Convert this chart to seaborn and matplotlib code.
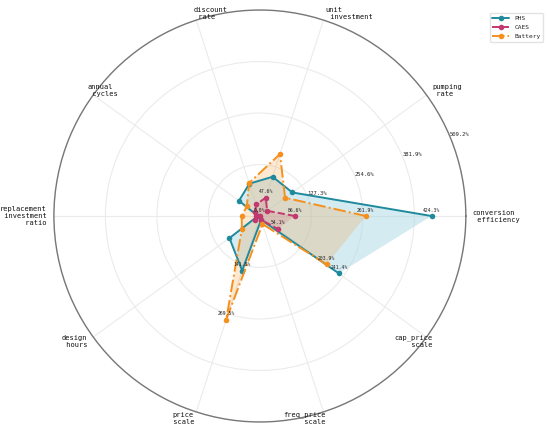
import numpy as np
import matplotlib
matplotlib.use("Agg")
import matplotlib.pyplot as plt
import seaborn as sns

# axes of the radar, counter-clockwise from the right
categories = ["conversion efficiency", "pumping rate", "unit investment", "discount rate",
              "annual cycles", "replacement investment ratio", "design hours",
              "price scale", "freq_price scale", "cap_price scale"]

# values in % (relative sensitivity)
phs = [424.3, 99.0, 102.0, 84.0, 64.0, 5.0, 93.0, 141.8, 10.0, 241.4]
caes = [86.6, 22.0, 47.6, 30.0, 15.0, 10.0, 15.0, 0.0, 10.0, 54.1]
battery = [261.9, 77.0, 161.0, 86.0, 40.0, 45.0, 55.0, 269.5, 21.0, 203.9]

r_ticks = [127.3, 254.6, 381.9, 509.2]

# which points get a value label
labelled = {
    "PHS": [0, 9, 7],
    "CAES": [0, 9, 2, 7],
    "Battery": [7, 0, 9],
}

sns.set_theme(style="white")
plt.rcParams["font.family"] = ["DejaVu Sans Mono"]

series = [
    ("PHS", phs, "#1f8a9c", "-", "#add8e6", 0.5),
    ("CAES", caes, "#c2386f", "--", "#c2386f", 0.18),
    ("Battery", battery, "#f5901e", "-.", "#f5901e", 0.2),
]

n = len(categories)
angles = np.linspace(0, 2 * np.pi, n, endpoint=False)
closed = np.concatenate([angles, angles[:1]])


def straight_polygon(theta, r, steps=40):
    # polar fill with straight edges: walk each edge in x/y and convert back
    x = r * np.cos(theta)
    y = r * np.sin(theta)
    xs, ys = [], []
    for k in range(len(theta)):
        j = (k + 1) % len(theta)
        t = np.linspace(0, 1, steps, endpoint=False)
        xs.append(x[k] + (x[j] - x[k]) * t)
        ys.append(y[k] + (y[j] - y[k]) * t)
    xs = np.concatenate(xs)
    ys = np.concatenate(ys)
    return np.unwrap(np.arctan2(ys, xs)), np.hypot(xs, ys)


fig = plt.figure(figsize=(5.5, 4.29), dpi=100)
ax = fig.add_axes([0.098, 0.016, 0.749, 0.961], projection="polar")

for name, vals, col, ls, fill, alpha in series:
    v = np.concatenate([vals, vals[:1]])
    th_f, r_f = straight_polygon(angles, np.array(vals))
    ax.fill(th_f, r_f, facecolor=fill, edgecolor="none", alpha=alpha, zorder=2)
    sns.lineplot(x=closed, y=v, ax=ax, sort=False, errorbar=None, color=col,
                 linestyle=ls, linewidth=1.4, marker="o", markersize=4,
                 markeredgewidth=0, label=name, zorder=3)
    for i in labelled[name]:
        ax.annotate(f"{vals[i]:.1f}%", (angles[i], vals[i]), textcoords="offset points",
                    xytext=(0, 2.5), ha="center", va="bottom", fontsize=3.4,
                    color="#222222", zorder=5)

ax.set_ylim(0, r_ticks[-1])
ax.set_yticks(r_ticks)
ax.set_yticklabels([f"{t:.1f}%" for t in r_ticks], fontsize=4, color="#222222")
ax.set_rlabel_position(22.5)
ax.set_xticks(angles)
ax.set_xticklabels([])
ax.set_xlabel("")
ax.set_ylabel("")
ax.grid(True, color="#ebebeb", linewidth=0.8)
ax.spines["polar"].set_color("#777777")
ax.spines["polar"].set_linewidth(1.0)

# category names just outside the outer ring
for ang, cat in zip(angles, categories):
    ha = "left" if ang < np.pi - 0.01 else "right"
    ax.annotate(cat.replace(" ", "\n "), (ang, r_ticks[-1]), textcoords="offset points",
                xytext=(5 * np.cos(ang), 5 * np.sin(ang)), ha=ha, va="center",
                multialignment=ha, fontsize=5, color="#111111", annotation_clip=False)

leg = ax.legend(loc="upper right", bbox_to_anchor=(1.187, 0.993), borderaxespad=0,
                fontsize=4.5, frameon=True, handlelength=2.7, labelspacing=0.6)
leg.get_frame().set_edgecolor("#dddddd")

fig.savefig("out.png", dpi=100)
